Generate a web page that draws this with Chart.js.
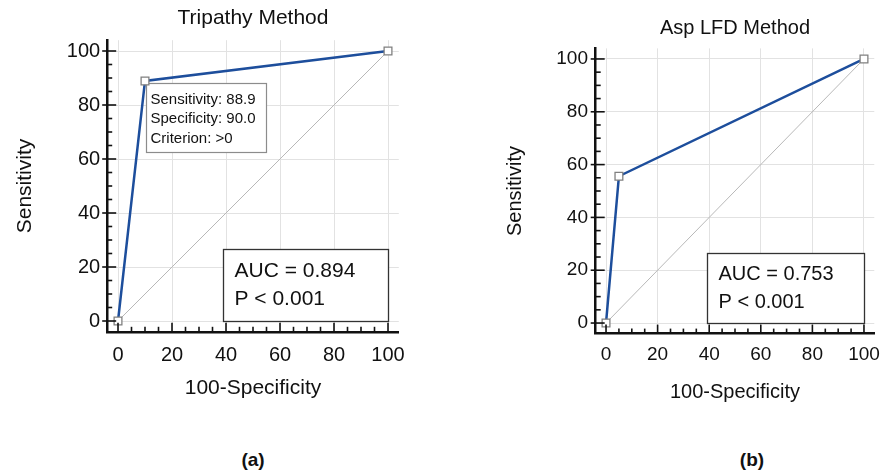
<!DOCTYPE html>
<html>
<head>
<meta charset="utf-8">
<script src="https://cdn.jsdelivr.net/npm/chart.js@4.4.1/dist/chart.umd.min.js"></script>
<style>
  html, body { margin:0; padding:0; background:#fff; overflow:hidden; width:890px; height:472px; }
  #wrap { position:relative; width:890px; height:472px; overflow:hidden; }
  canvas { position:absolute; top:0; }
  .lab { position:absolute; top:449px; font:bold 19px "Liberation Sans", Arial, sans-serif; color:#111; transform:translateX(-50%); line-height:22px; }
</style>
</head>
<body>
<div id="wrap">
  <canvas id="chartA" width="445" height="420" style="left:0px"></canvas>
  <canvas id="chartB" width="460" height="420" style="left:440px"></canvas>
  <div class="lab" style="left:253px">(a)</div>
  <div class="lab" style="left:752px">(b)</div>
</div>
<script>
// ---------- data ----------
const titleA = 'Tripathy Method';
const titleB = 'Asp LFD Method';
const xTitle = '100-Specificity';
const yTitle = 'Sensitivity';
const tickValues = [0, 20, 40, 60, 80, 100];
const minorTickValues = [0,5,10,15,20,25,30,35,40,45,50,55,60,65,70,75,80,85,90,95,100];

const fprA  = [0, 10, 100];     // 100-Specificity
const sensA = [0, 88.9, 100];   // Sensitivity
const fprB  = [0, 5, 100];
const sensB = [0, 55.6, 100];
const refX  = [0, 100];         // chance diagonal
const refY  = [0, 100];

const aucTextA = ['AUC = 0.894', 'P < 0.001'];
const aucTextB = ['AUC = 0.753', 'P < 0.001'];
const critTextA = ['Sensitivity: 88.9', 'Specificity: 90.0', 'Criterion: >0'];

// ---------- helpers ----------
const FONT = '"Liberation Sans", Arial, Helvetica, sans-serif';
const toPts = (xs, ys) => xs.map((v, i) => ({ x: v, y: ys[i] }));

const decorPlugin = {
  id: 'rocDecor',
  beforeDatasetsDraw(chart) {
    const o = chart.options.plugins.rocDecor;
    const { ctx, scales: { x, y } } = chart;
    ctx.save();
    o.boxes.forEach(b => {
      const l = Math.round(x.getPixelForValue(b.x0) + (b.dx0 || 0)) + 0.5;
      const r = Math.round(x.getPixelForValue(b.x1) + (b.dx1 || 0)) + 0.5;
      const t = Math.round(y.getPixelForValue(b.y1) + (b.dy1 || 0)) + 0.5;
      const bt = Math.round(y.getPixelForValue(b.y0) + (b.dy0 || 0)) + 0.5;
      ctx.fillStyle = '#fff';
      ctx.fillRect(l, t, r - l, bt - t);
      ctx.strokeStyle = b.border;
      ctx.lineWidth = b.borderWidth;
      ctx.strokeRect(l, t, r - l, bt - t);
      ctx.fillStyle = '#111';
      ctx.font = b.fontSize + 'px ' + FONT;
      ctx.textAlign = 'left';
      ctx.textBaseline = 'middle';
      b.lines.forEach((s, i) => ctx.fillText(s, l + b.padX, t + b.firstY + i * b.lineGap));
    });
    ctx.restore();
  },
  afterDraw(chart) {
    const { ctx, chartArea: a, scales: { x, y } } = chart;
    ctx.save();
    ctx.strokeStyle = '#111';
    ctx.lineWidth = 1.6;
    minorTickValues.forEach(v => {
      const major = tickValues.includes(v);
      const px = x.getPixelForValue(v);
      ctx.beginPath();
      ctx.moveTo(px, a.bottom);
      ctx.lineTo(px, a.bottom - (major ? 9 : 5));
      ctx.stroke();
      const py = y.getPixelForValue(v);
      ctx.beginPath();
      ctx.moveTo(a.left - (major ? 5 : 0), py);
      ctx.lineTo(a.left + (major ? 9 : 5), py);
      ctx.stroke();
    });
    ctx.restore();
  }
};

function makeChart(id, g) {
  return new Chart(document.getElementById(id), {
    type: 'scatter',
    data: {
      datasets: [
        {
          label: 'ROC',
          data: toPts(g.xs, g.ys),
          showLine: true,
          borderColor: '#1d4e9c',
          borderWidth: 2.5,
          tension: 0,
          pointStyle: 'rect',
          pointRadius: 5.5,
          pointBackgroundColor: '#ffffff',
          pointBorderColor: '#808080',
          pointBorderWidth: 1.3,
          order: 0
        },
        {
          label: 'Reference',
          data: toPts(refX, refY),
          showLine: true,
          borderColor: '#b8b8b8',
          borderWidth: 1,
          pointRadius: 0,
          order: 1
        }
      ]
    },
    options: {
      responsive: false,
      animation: false,
      devicePixelRatio: 1,
      layout: { padding: { left: 0, right: g.padR, top: 0, bottom: 0 } },
      plugins: {
        legend: { display: false },
        tooltip: { enabled: false },
        title: {
          display: true,
          text: g.title,
          fullSize: false,
          color: '#111',
          font: { family: FONT, size: g.titleSize, weight: 'normal', lineHeight: 1.2 },
          padding: { top: g.titlePadT, bottom: g.titlePadB }
        },
        rocDecor: { boxes: g.boxes }
      },
      scales: {
        x: {
          type: 'linear', min: -4, max: 104,
          afterBuildTicks: s => { s.ticks = tickValues.map(v => ({ value: v })); },
          afterFit: s => { s.height = g.xH; },
          grid: { color: '#e2e2e2', lineWidth: 1, drawTicks: false },
          border: { display: true, color: '#111', width: 2.5 },
          ticks: { padding: g.xTickPad, color: '#111', maxRotation: 0, autoSkip: false,
                   font: { family: FONT, size: g.tickSize, lineHeight: 1.2 } },
          title: { display: true, text: xTitle, color: '#111',
                   font: { family: FONT, size: g.axTitleSize, lineHeight: 1.2 },
                   padding: { top: 0, bottom: g.xTitlePadB } }
        },
        y: {
          type: 'linear', min: -4, max: 104,
          afterBuildTicks: s => { s.ticks = tickValues.map(v => ({ value: v })); },
          afterFit: s => { s.width = g.yW; },
          grid: { color: '#e2e2e2', lineWidth: 1, drawTicks: false },
          border: { display: true, color: '#111', width: 2.5 },
          ticks: { padding: g.yTickPad, color: '#111', autoSkip: false,
                   font: { family: FONT, size: g.tickSize, lineHeight: 1.2 } },
          title: { display: true, text: yTitle, color: '#111',
                   font: { family: FONT, size: g.axTitleSize, lineHeight: 1.2 },
                   padding: { top: g.yTitlePadT, bottom: 0 } }
        }
      }
    },
    plugins: [decorPlugin]
  });
}

makeChart('chartA', {
  title: titleA, xs: fprA, ys: sensA,
  padR: 46.2, yW: 107.2, xH: 88.2,
  titleSize: 21, titlePadT: 5.4, titlePadB: 9.6,
  tickSize: 20, axTitleSize: 21,
  xTickPad: 11.2, yTickPad: 7, xTitlePadB: 19.4, yTitlePadT: 12.4,
  boxes: [
    { x0: 39, x1: 100, y0: 0, y1: 26.5, lines: aucTextA, fontSize: 21,
      padX: 11, firstY: 22, lineGap: 28, border: '#333', borderWidth: 1.3 },
    { x0: 10, x1: 54.8, y0: 62.6, y1: 88.9, dx0: 1, dy1: 2, lines: critTextA, fontSize: 15,
      padX: 4, firstY: 16, lineGap: 19.5, border: '#8c8c8c', borderWidth: 1.2 }
  ]
});

makeChart('chartB', {
  title: titleB, xs: fprB, ys: sensB,
  padR: 25.7, yW: 155.7, xH: 86.4,
  titleSize: 20, titlePadT: 16, titlePadB: 8.4,
  tickSize: 19, axTitleSize: 20,
  xTickPad: 10, yTickPad: 7.7, xTitlePadB: 16, yTitlePadT: 63,
  boxes: [
    { x0: 39, x1: 100, y0: 0, y1: 26.5, lines: aucTextB, fontSize: 20,
      padX: 11, firstY: 21, lineGap: 28, border: '#333', borderWidth: 1.3 }
  ]
});
</script>
</body>
</html>
